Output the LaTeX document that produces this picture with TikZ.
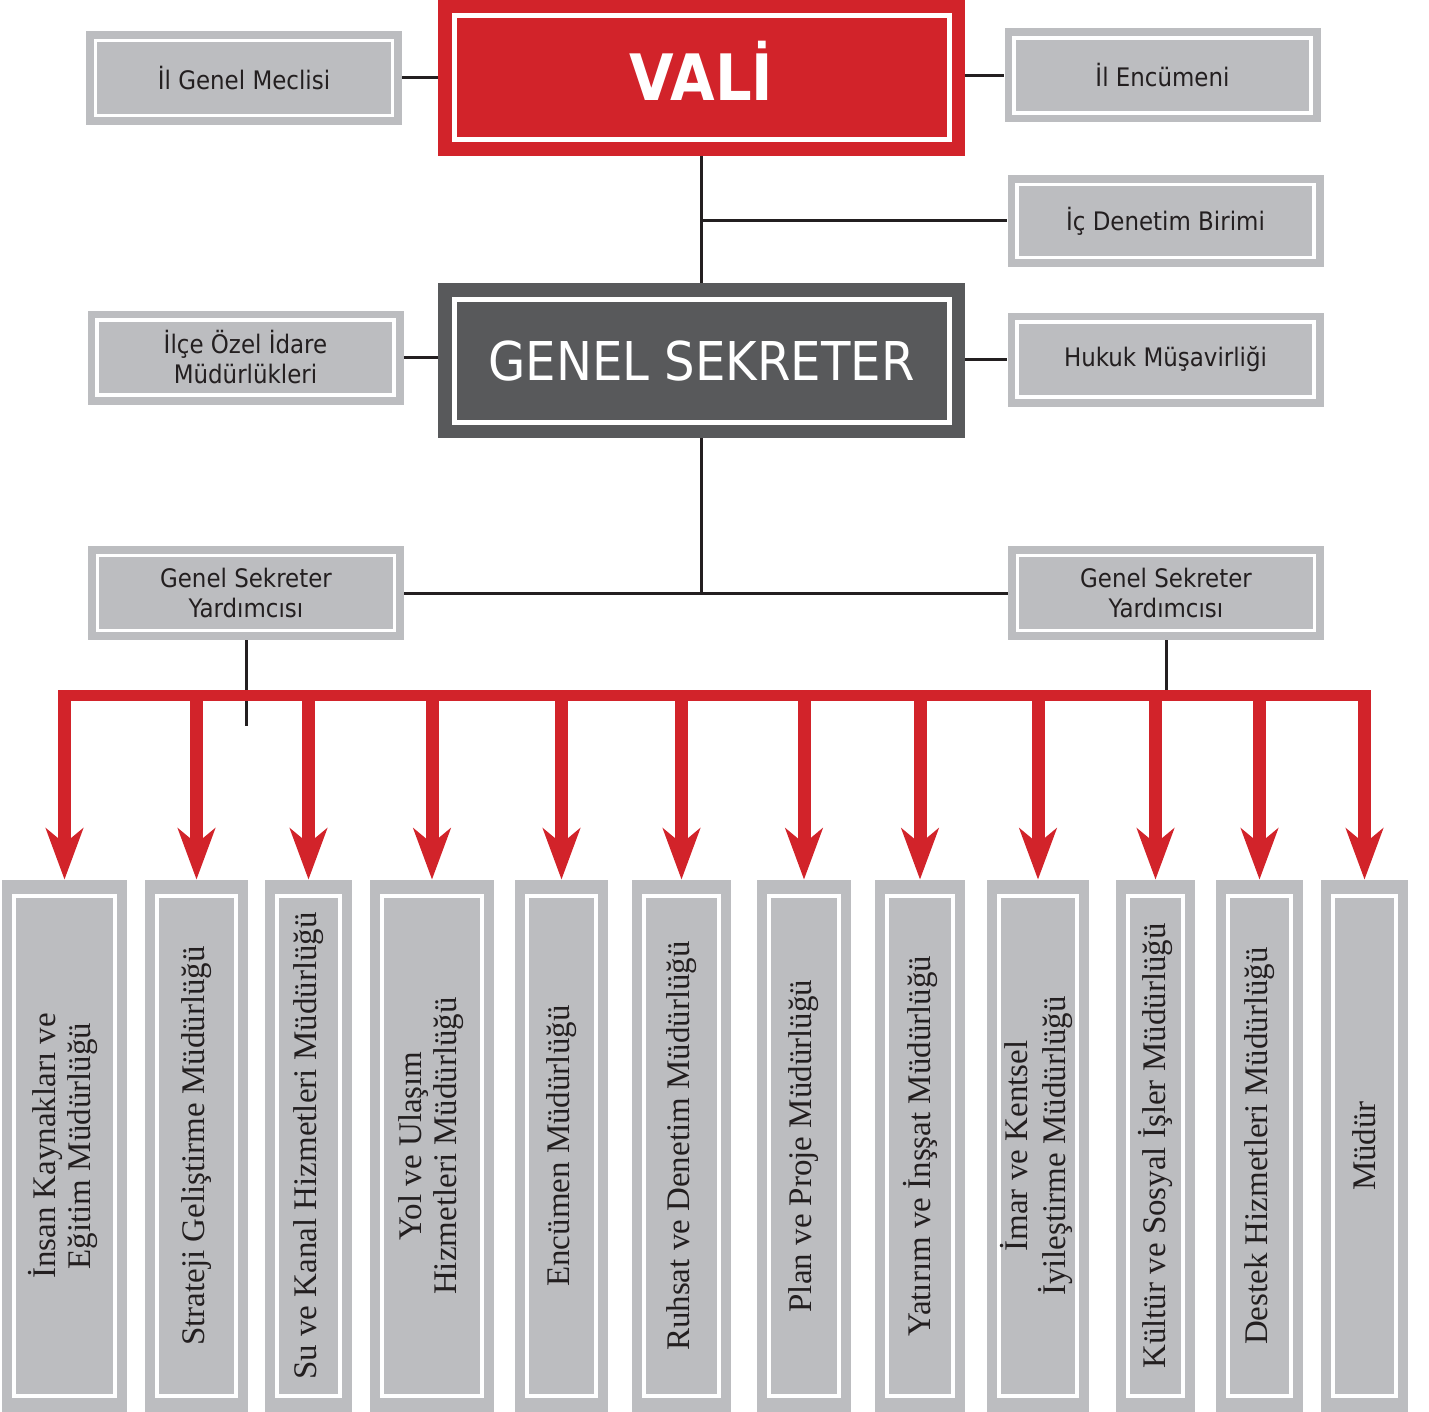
\documentclass[tikz,border=0pt]{standalone}
\usepackage{fontspec}
\setmainfont{Liberation Serif}
\newfontfamily\sansf[FakeStretch=0.9]{DejaVu Sans}
\usetikzlibrary{arrows.meta,calc}
\definecolor{vred}{HTML}{D2232A}
\definecolor{bgrey}{HTML}{BCBDC0}
\definecolor{dgrey}{HTML}{58595B}
\definecolor{ink}{HTML}{231F20}
\begin{document}
\begin{tikzpicture}[x=0.5pt,y=-0.5pt,
  wframe/.style n args={3}{path picture={\draw[white,line width=#3]
     ([shift={(#1,-#2)}]path picture bounding box.north west) rectangle
     ([shift={(-#1,#2)}]path picture bounding box.south east);}},
  smallbox/.style={fill=bgrey, inner sep=0pt, minimum width=158pt, minimum height=47pt,
     wframe={4.75pt}{4.75pt}{1.75pt}, font=\sansf\fontsize{12.75}{15}\selectfont,
     text=ink, align=center},
  bigbox/.style={inner sep=0pt, minimum width=263.5pt, minimum height=78pt,
     wframe={8pt}{8pt}{2.5pt}, text=white},
  dept/.style={fill=bgrey, inner sep=0pt, minimum height=266pt,
     wframe={6pt}{8pt}{2.25pt}, font=\fontsize{16.5}{17.5}\selectfont, text=ink},
  conn/.style={draw=ink, line width=1.5pt},
  redarrow/.style={draw=vred, line width=6.5pt,
     -{Stealth[length=25.5pt,width=18.5pt,inset=7.5pt]}}
]
\useasboundingbox (0,0) rectangle (1429,1412);

% top level
\node[bigbox, fill=vred, font=\sansf\bfseries\fontsize{32}{32}\selectfont,
      text height=23pt, text depth=0pt] (vali) at (701.5,78) {VALİ};
\node[bigbox, fill=dgrey, minimum height=77.5pt, font=\sansf\fontsize{26.75}{30}\selectfont,
      text height=19.5pt, text depth=0pt] (gs) at (701.5,360.5) {GENEL SEKRETER};

\node[smallbox] (ilgm)  at (244,78)     {İl Genel Meclisi};
\node[smallbox] (ilenc) at (1162.5,75.5) {İl Encümeni};
\node[smallbox, minimum height=46pt] (icden) at (1165.5,221) {İç Denetim Birimi};
\node[smallbox] (ilce)  at (245.5,357.5) {İlçe Özel İdare\\Müdürlükleri};
\node[smallbox] (hukuk) at (1165.5,359.5) {Hukuk Müşavirliği};
\node[smallbox] (gsyL)  at (246,593)    {Genel Sekreter\\Yardımcısı};
\node[smallbox] (gsyR)  at (1166,593)   {Genel Sekreter\\Yardımcısı};

% departments
\node[dept, minimum width=62.5pt] (b1) at (64.5,1146)
  {\rotatebox{90}{\begin{tabular}{@{}c@{}}İnsan Kaynakları ve\\Eğitim Müdürlüğü\end{tabular}}};
\node[dept, minimum width=51.5pt] (b2) at (196.5,1146)
  {\rotatebox{90}{Strateji Geliştirme Müdürlüğü}};
\node[dept, minimum width=43.5pt] (b3) at (308.5,1146)
  {\rotatebox{90}{Su ve Kanal Hizmetleri Müdürlüğü}};
\node[dept, minimum width=62pt] (b4) at (432,1146)
  {\rotatebox{90}{\begin{tabular}{@{}c@{}}Yol ve Ulaşım\\Hizmetleri Müdürlüğü\end{tabular}}};
\node[dept, minimum width=46.5pt] (b5) at (561.5,1146)
  {\rotatebox{90}{Encümen Müdürlüğü}};
\node[dept, minimum width=49.5pt] (b6) at (681.5,1146)
  {\rotatebox{90}{Ruhsat ve Denetim Müdürlüğü}};
\node[dept, minimum width=47pt] (b7) at (804,1146)
  {\rotatebox{90}{Plan ve Proje Müdürlüğü}};
\node[dept, minimum width=45pt] (b8) at (920,1146)
  {\rotatebox{90}{Yatırım ve İnşşat Müdürlüğü}};
\node[dept, minimum width=51pt] (b9) at (1038,1146)
  {\rotatebox{90}{\begin{tabular}{@{}c@{}}İmar ve Kentsel\\İyileştirme Müdürlüğü\end{tabular}}};
\node[dept, minimum width=39.5pt] (b10) at (1155.5,1146)
  {\rotatebox{90}{Kültür ve Sosyal İşler Müdürlüğü}};
\node[dept, minimum width=43.5pt] (b11) at (1259.5,1146)
  {\rotatebox{90}{Destek Hizmetleri Müdürlüğü}};
\node[dept, minimum width=43.5pt] (b12) at (1364.5,1146)
  {\rotatebox{90}{Müdür}};

% black connectors
\draw[conn] (ilgm.east) -- (vali.west);
\draw[conn] (vali.east |- ilenc.west) -- (ilenc.west);
\draw[conn] (vali.south) -- (gs.north);
\draw[conn] (icden.west -| vali.south) -- (icden.west);
\draw[conn] (ilce.east) -- (ilce.east -| gs.west);
\draw[conn] (hukuk.west -| gs.east) -- (hukuk.west);
\draw[conn] (gs.south) -- (gs.south |- gsyL.east);
\draw[conn] (gsyL.east) -- (gsyR.west);
\coordinate (lstub) at (246,726);
\coordinate (bartop) at (0,690);
\coordinate (barmid) at (0,695.5);
\draw[conn] (gsyL.south) -- (lstub);
\draw[conn] (gsyR.south) -- (gsyR.south |- bartop);

% red distribution bar and arrows
\draw[vred, line width=5.5pt] ($(b1.north |- barmid)+(-6.5,0)$) -- ($(b12.north |- barmid)+(6.5,0)$);
\foreach \i in {1,...,12}{
  \draw[redarrow] (b\i.north |- bartop) -- (b\i.north);
}
\end{tikzpicture}
\end{document}
